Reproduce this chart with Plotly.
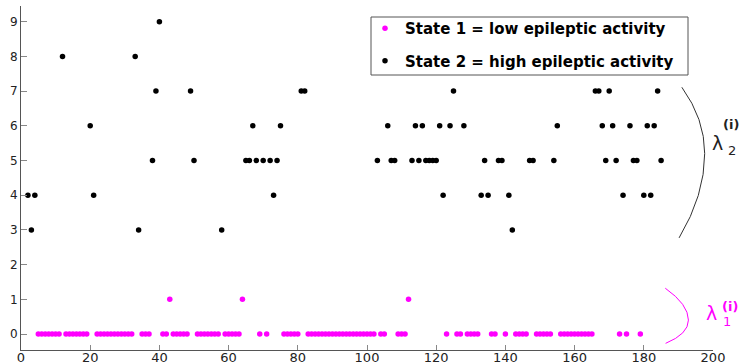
import plotly.graph_objects as go

# ---- data (time index, observed count) ----
state1_t = [5, 6, 7, 8, 9, 10, 11, 13, 14, 15, 16, 17, 18, 19, 22, 23, 24, 25, 26, 27,
            28, 29, 30, 31, 32, 35, 36, 37, 41, 42, 43, 44, 45, 46, 47, 48, 51, 52, 53, 54,
            55, 56, 57, 59, 60, 61, 62, 63, 64, 69, 71, 76, 77, 78, 79, 80, 83, 84, 85, 86,
            87, 88, 89, 90, 91, 92, 93, 94, 95, 96, 97, 98, 99, 100, 101, 102, 104, 105, 109, 110,
            111, 112, 123, 126, 127, 129, 130, 131, 132, 136, 137, 140, 143, 144, 145, 146, 149, 150, 151, 152,
            153, 156, 157, 158, 159, 160, 161, 162, 163, 164, 165, 173, 175, 179]
state1_y = [0, 0, 0, 0, 0, 0, 0, 0, 0, 0, 0, 0, 0, 0, 0, 0, 0, 0, 0, 0,
            0, 0, 0, 0, 0, 0, 0, 0, 0, 0, 1, 0, 0, 0, 0, 0, 0, 0, 0, 0,
            0, 0, 0, 0, 0, 0, 0, 0, 1, 0, 0, 0, 0, 0, 0, 0, 0, 0, 0, 0,
            0, 0, 0, 0, 0, 0, 0, 0, 0, 0, 0, 0, 0, 0, 0, 0, 0, 0, 0, 0,
            0, 1, 0, 0, 0, 0, 0, 0, 0, 0, 0, 0, 0, 0, 0, 0, 0, 0, 0, 0,
            0, 0, 0, 0, 0, 0, 0, 0, 0, 0, 0, 0, 0, 0]

state2_t = [2, 3, 4, 12, 20, 21, 33, 34, 38, 39, 40, 49, 50, 58, 65, 66, 67, 68, 70, 72,
            73, 74, 75, 81, 82, 103, 106, 107, 108, 113, 114, 115, 116, 117, 118, 119, 120, 121, 122, 124,
            125, 128, 133, 134, 135, 138, 139, 141, 142, 147, 148, 154, 155, 166, 167, 168, 169, 170, 171, 172,
            174, 176, 177, 178, 180, 181, 182, 183, 184, 185]
state2_y = [4, 3, 4, 8, 6, 4, 8, 3, 5, 7, 9, 7, 5, 3, 5, 5, 6, 5, 5, 5,
            4, 5, 6, 7, 7, 5, 6, 5, 5, 5, 6, 5, 6, 5, 5, 5, 5, 6, 4, 6,
            7, 6, 4, 5, 4, 5, 5, 4, 3, 5, 5, 5, 6, 7, 7, 6, 5, 7, 6, 5,
            4, 6, 5, 5, 4, 6, 4, 6, 7, 5]

series_names = ["State 1 = low epileptic activity", "State 2 = high epileptic activity"]
x_ticks = [0, 20, 40, 60, 80, 100, 120, 140, 160, 180, 200]
y_ticks = [0, 1, 2, 3, 4, 5, 6, 7, 8, 9]

MAGENTA = "#ff00ff"
BLACK = "#000000"

W, H = 749, 364
ML, MR, MT, MB = 21, 36, 6, 14
PW, PH = W - ML - MR, H - MT - MB


def px2paper(px, py):
    return (px - ML) / PW, (H - MB - py) / PH


fig = go.Figure()
fig.add_trace(go.Scatter(x=state1_t, y=state1_y, mode="markers", name=series_names[0],
                         legendgroup="s1",
                         marker=dict(color=MAGENTA, size=5.5, line=dict(width=0))))
fig.add_trace(go.Scatter(x=state2_t, y=state2_y, mode="markers", name=series_names[1],
                         legendgroup="s2",
                         marker=dict(color=BLACK, size=5.5, line=dict(width=0))))

# braces
fig.add_shape(type="path", xref="x", yref="y",
              path="M 191.0,7.11 Q 197.6,6.2 197.6,5.2 Q 197.6,4.0 190.2,2.77",
              line=dict(color="#333333", width=1))
fig.add_shape(type="path", xref="x", yref="y",
              path="M 186.2,1.32 Q 192.9,0.85 192.9,0.40 Q 192.9,0.0 186.3,-0.27",
              line=dict(color=MAGENTA, width=1))

# legend frame
bx0, by0 = px2paper(371, 75)
bx1, by1 = px2paper(688, 17)
fig.add_shape(type="rect", xref="paper", yref="paper", x0=bx0, y0=by0, x1=bx1, y1=by1,
              line=dict(color="#555555", width=1), fillcolor="white", layer="above")

annots = []
def lab(text, px, py, size, color, bold=False):
    x, y = px2paper(px, py)
    annots.append(dict(text=("<b>%s</b>" % text) if bold else text, x=x, y=y,
                       xref="paper", yref="paper", xanchor="center", yanchor="middle",
                       showarrow=False,
                       font=dict(family="DejaVu Sans", size=size, color=color)))

lab("λ", 717, 143, 19, "#222222")
lab("(i)", 731, 125, 13, "#222222", bold=True)
lab("2", 731.5, 150, 13, "#222222")
lab("λ", 711, 313, 19, MAGENTA)
lab("(i)", 729.7, 306, 13, MAGENTA, bold=True)
lab("1", 727, 321, 13, MAGENTA)

lx, ly = px2paper(365, 12)

fig.update_layout(
    width=W, height=H,
    margin=dict(l=ML, r=MR, t=MT, b=MB, pad=0),
    paper_bgcolor="white", plot_bgcolor="white",
    showlegend=True,
    legend=dict(x=lx, y=ly, xanchor="left", yanchor="top",
                borderwidth=0, bgcolor="rgba(0,0,0,0)",
                font=dict(family="DejaVu Sans", size=15, color="#000000", weight="bold"),
                tracegroupgap=10, traceorder="grouped"),
    annotations=annots,
    xaxis=dict(range=[0, 200], tickvals=x_ticks, ticktext=[str(v) for v in x_ticks],
               showgrid=False, zeroline=False, showline=True, linecolor="#555555", linewidth=1,
               ticks="inside", ticklen=5, tickcolor="#888888",
               tickfont=dict(family="DejaVu Sans", size=13, color="#222222"),
               ticklabelstandoff=-5,
               automargin=False),
    yaxis=dict(range=[-0.461, 9.452], tickvals=y_ticks, ticktext=[str(v) for v in y_ticks],
               showgrid=False, zeroline=False, showline=True, linecolor="#555555", linewidth=1,
               ticks="inside", ticklen=6, tickcolor="#888888",
               tickfont=dict(family="DejaVu Sans", size=12, color="#222222"),
               automargin=False),
)

fig.write_html("out.html", config={"displayModeBar": False},
               post_script="document.body.style.margin='0';document.body.style.overflow='hidden';")
